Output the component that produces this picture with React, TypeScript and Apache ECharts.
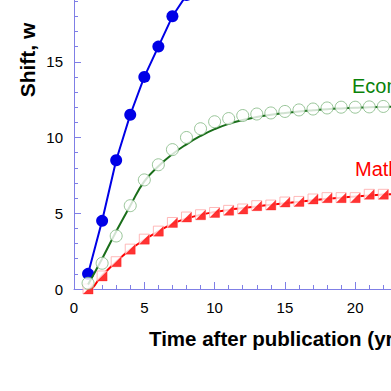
import React, { useEffect, useRef } from 'react';
import * as echarts from 'echarts';

const FONT = '"Liberation Sans", Arial, sans-serif';

const xTickLabels = ['0', '5', '10', '15', '20'];
const yTickLabels = ['0', '5', '10', '15'];

// Blue series (filled circles + connecting line)
const blueX = [1, 2, 3, 4, 5, 6, 7, 8];
const blueY = [1.0, 4.5, 8.5, 11.5, 14.0, 16.0, 18.0, 19.4];

// Economics: open circles and fitted curve
const econX = [1, 2, 3, 4, 5, 6, 7, 8, 9, 10, 11, 12, 13, 14, 15, 16, 17, 18, 19, 20, 21, 22];
const econY = [0.38, 1.7, 3.5, 5.5, 7.2, 8.2, 9.2, 10.0, 10.58, 11.04, 11.25, 11.45, 11.55, 11.62, 11.72, 11.82, 11.88, 11.95, 12.0, 12.0, 12.02, 12.05];
const econFitX = [1, 2, 3, 4, 5, 6, 7, 8, 9, 10, 11, 12, 13, 14, 15, 16, 17, 18, 19, 20, 21, 22, 23, 24];
const econFitY = [0.3, 2.0, 3.8, 5.5, 7.1, 8.1, 8.9, 9.55, 10.1, 10.55, 10.9, 11.15, 11.35, 11.5, 11.62, 11.72, 11.8, 11.87, 11.92, 11.96, 12.0, 12.02, 12.04, 12.05];

// Mathematics: half-filled squares and fitted curve
const mathX = [1, 2, 3, 4, 5, 6, 7, 8, 9, 10, 11, 12, 13, 14, 15, 16, 17, 18, 19, 20, 21, 22];
const mathY = [0.0, 0.86, 1.8, 2.63, 3.29, 3.82, 4.39, 4.75, 4.9, 5.05, 5.19, 5.28, 5.5, 5.54, 5.74, 5.78, 5.94, 6.03, 6.03, 6.03, 6.25, 6.25];
const mathFitX = [0.8, 1, 2, 3, 4, 5, 6, 7, 8, 9, 10, 11, 12, 13, 14, 15, 16, 17, 18, 19, 20, 21, 22, 23, 24];
const mathFitY = [0.0, 0.0, 0.9, 1.8, 2.6, 3.25, 3.8, 4.3, 4.65, 4.9, 5.08, 5.22, 5.34, 5.45, 5.56, 5.66, 5.76, 5.86, 5.95, 6.03, 6.1, 6.17, 6.23, 6.28, 6.32];

const zip = (xs: number[], ys: number[]) => xs.map((x, i) => [x, ys[i]]);

const AXIS_COLOR = '#7f7fe6';

export default function App() {
  const ref = useRef<HTMLDivElement>(null);
  useEffect(() => {
    document.body.style.margin = '0';
    const chart = echarts.init(ref.current!, null, { renderer: 'svg' });
    chart.setOption({
      animation: false,
      backgroundColor: '#ffffff',
      grid: { left: 74, right: -34.5, top: -14, bottom: 102, containLabel: false, outerBoundsMode: 'none' },
      xAxis: {
        type: 'value',
        min: 0,
        max: 25,
        interval: 5,
        axisLine: { show: true, lineStyle: { color: AXIS_COLOR, width: 1 } },
        axisTick: { show: true, inside: true, length: 7, lineStyle: { color: AXIS_COLOR } },
        minorTick: { show: true, splitNumber: 5, length: 4, lineStyle: { color: AXIS_COLOR } },
        splitLine: { show: false },
        axisLabel: {
          color: '#000',
          fontSize: 15,
          fontFamily: FONT,
          margin: 11,
          formatter: (v: number) => (xTickLabels.includes(String(v)) ? String(v) : ''),
        },
      },
      yAxis: {
        type: 'value',
        min: 0,
        max: 20,
        interval: 5,
        axisLine: { show: true, lineStyle: { color: AXIS_COLOR, width: 1 } },
        axisTick: { show: true, inside: true, length: 7, lineStyle: { color: AXIS_COLOR } },
        minorTick: { show: true, splitNumber: 5, length: 4, lineStyle: { color: AXIS_COLOR } },
        splitLine: { show: false },
        axisLabel: {
          color: '#000',
          fontSize: 15,
          fontFamily: FONT,
          margin: 11,
          formatter: (v: number) => (yTickLabels.includes(String(v)) ? String(v) : ''),
        },
      },
      series: [
        {
          name: 'blue',
          type: 'line',
          data: zip(blueX, blueY),
          symbol: 'circle',
          symbolSize: 12,
          clip: true,
          lineStyle: { color: '#0000e6', width: 2 },
          itemStyle: { color: '#0000e6' },
          z: 2,
        },
        {
          name: 'mathFit',
          type: 'line',
          data: zip(mathFitX, mathFitY),
          showSymbol: false,
          smooth: true,
          clip: true,
          lineStyle: { color: '#ff0000', width: 2 },
          z: 3,
        },
        {
          name: 'mathSquares',
          type: 'scatter',
          data: zip(mathX, mathY),
          symbol: 'rect',
          symbolSize: 10,
          clip: true,
          itemStyle: { color: '#ffffff', borderColor: '#ffa8a8', borderWidth: 1 },
          z: 4,
        },
        {
          name: 'mathTriangles',
          type: 'scatter',
          data: zip(mathX, mathY),
          symbol: 'path://M10,0 L10,10 L0,10 Z',
          symbolSize: 10,
          clip: true,
          itemStyle: { color: '#ff0000' },
          z: 5,
        },
        {
          name: 'econFit',
          type: 'line',
          data: zip(econFitX, econFitY),
          showSymbol: false,
          smooth: true,
          clip: true,
          lineStyle: { color: '#1a6e1a', width: 2 },
          z: 6,
        },
        {
          name: 'econCircles',
          type: 'scatter',
          data: zip(econX, econY),
          symbol: 'circle',
          symbolSize: 12,
          clip: true,
          itemStyle: { color: '#ffffff', borderColor: '#7fb77f', borderWidth: 1 },
          z: 7,
        },
      ],
      graphic: [
        {
          type: 'text',
          x: 27,
          y: 60,
          rotation: Math.PI / 2,
          style: {
            text: 'Shift, w',
            fill: '#000',
            fontSize: 21,
            fontWeight: 'bold',
            fontFamily: FONT,
            align: 'center',
            verticalAlign: 'middle',
          },
        },
        {
          type: 'text',
          x: 149,
          y: 338,
          style: {
            text: 'Time after publication (yr)',
            fill: '#000',
            fontSize: 20.5,
            fontWeight: 'bold',
            fontFamily: FONT,
            align: 'left',
            verticalAlign: 'middle',
          },
        },
        {
          type: 'text',
          x: 352,
          y: 86,
          style: {
            text: 'Economics',
            fill: '#0a820a',
            fontSize: 20,
            fontFamily: FONT,
            align: 'left',
            verticalAlign: 'middle',
          },
        },
        {
          type: 'text',
          x: 355,
          y: 169,
          style: {
            text: 'Mathematics',
            fill: '#ff0000',
            fontSize: 20,
            fontFamily: FONT,
            align: 'left',
            verticalAlign: 'middle',
          },
        },
      ],
    });
    return () => chart.dispose();
  }, []);
  return <div ref={ref} style={{ width: 391, height: 391 }} />;
}
